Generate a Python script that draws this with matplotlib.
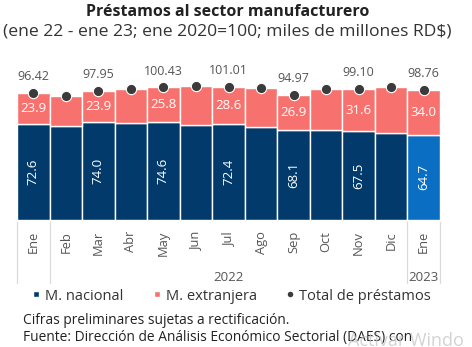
import matplotlib
matplotlib.use("Agg")
import matplotlib.pyplot as plt
from matplotlib.lines import Line2D

plt.rcParams["font.family"] = ["Open Sans", "DejaVu Sans"]

months = ["Ene", "Feb", "Mar", "Abr", "May", "Jun", "Jul", "Ago", "Sep", "Oct", "Nov", "Dic", "Ene"]
nacional = [72.6, 71.2, 74.0, 73.7, 74.6, 72.0, 72.4, 70.2, 68.1, 68.0, 67.5, 66.2, 64.7]
extranjera = [23.9, 22.7, 23.9, 25.3, 25.8, 29.5, 28.6, 29.8, 26.9, 31.0, 31.6, 34.3, 34.0]
total = [96.42, 93.9, 97.95, 99.0, 100.43, 101.5, 101.01, 100.0, 94.97, 99.0, 99.10, 100.5, 98.76]
# only alternate months carry printed values
labelled = [0, 2, 4, 6, 8, 10, 12]

NAVY = "#023a6b"
NAVY_LAST = "#0a6fc2"
PINK = "#f7726e"
DOT = "#3b3b3b"
GRAY_TXT = "#555555"
LINE = "#dadada"

fig = plt.figure(figsize=(4.72, 3.47), dpi=100)
ax = fig.add_axes([17 / 472, 127 / 347, 423 / 472, 158.4 / 347])

x = list(range(len(months)))
nat_colors = [NAVY] * (len(months) - 1) + [NAVY_LAST]
ax.bar(x, nacional, width=1.0, color=nat_colors, edgecolor="white", linewidth=1.0)
ax.bar(x, extranjera, bottom=nacional, width=1.0, color=PINK, edgecolor="white", linewidth=1.0)
ax.scatter(x, total, s=55, color=DOT, edgecolors="white", linewidths=0.8, zorder=4)

for i in labelled:
    ax.text(i, nacional[i] / 2, f"{nacional[i]:.1f}", rotation=90, ha="center", va="center",
            color="white", fontsize=9.5)
    ax.text(i, nacional[i] + extranjera[i] / 2, f"{extranjera[i]:.1f}", ha="center", va="center",
            color="white", fontsize=9.5)
    ax.annotate(f"{total[i]:.2f}", xy=(i, total[i]), xytext=(0, 7), textcoords="offset points",
                ha="center", va="bottom", color=GRAY_TXT, fontsize=9)

ax.set_xlim(-0.5, len(months) - 0.5)
ax.set_ylim(0, 120)
for s in ax.spines.values():
    s.set_visible(False)
ax.set_yticks([])
ax.set_xticks(x)
ax.set_xticklabels(months, rotation=90, color=GRAY_TXT, fontsize=9.3)
ax.tick_params(axis="x", length=0, pad=8)

# year grouping on the category axis
trans = ax.get_xaxis_transform()
for xv in [-0.5, 0.5, 11.5, 12.5]:
    ax.plot([xv, xv], [-0.01, -0.40], transform=trans, color=LINE, lw=0.9, clip_on=False)
ax.text(6.0, -0.36, "2022", transform=trans, ha="center", va="center", color=GRAY_TXT, fontsize=9.5)
ax.text(12.0, -0.36, "2023", transform=trans, ha="center", va="center", color=GRAY_TXT, fontsize=9.5)

fig.text(0.483, 1 - 12 / 347, "Préstamos al sector manufacturero", ha="center", va="center",
         fontsize=11.5, fontweight="bold", color="#222222")
fig.text(0.482, 1 - 32 / 347, "(ene 22 - ene 23; ene 2020=100; miles de millones RD$)", ha="center",
         va="center", fontsize=12.6, color="#333333")

handles = [
    Line2D([0], [0], marker="s", color="w", markerfacecolor=NAVY, markersize=5, label="M. nacional"),
    Line2D([0], [0], marker="s", color="w", markerfacecolor=PINK, markersize=5, label="M. extranjera"),
    Line2D([0], [0], marker="o", color="w", markerfacecolor=DOT, markersize=5, label="Total de préstamos"),
]
fig.legend(handles=handles, loc="center", bbox_to_anchor=(0.49, 1 - 296 / 347), ncol=3, frameon=False,
           fontsize=10.5, handlelength=0.6, handletextpad=0.3, columnspacing=2.0, labelcolor="#333333")

fig.text(23 / 472, 1 - 320 / 347, "Cifras preliminares sujetas a rectificación.", ha="left", va="center",
         fontsize=9.9, color="#222222")
fig.text(23 / 472, 1 - 337 / 347, "Fuente: Dirección de Análisis Económico Sectorial (DAES) con", ha="left",
         va="center", fontsize=9.9, color="#222222")
fig.text(348 / 472, 1 - 341 / 347, "Activar Windo", ha="left", va="center", fontsize=13,
         color="#c8c8c8", alpha=0.8)

fig.savefig("out.png", dpi=100)
